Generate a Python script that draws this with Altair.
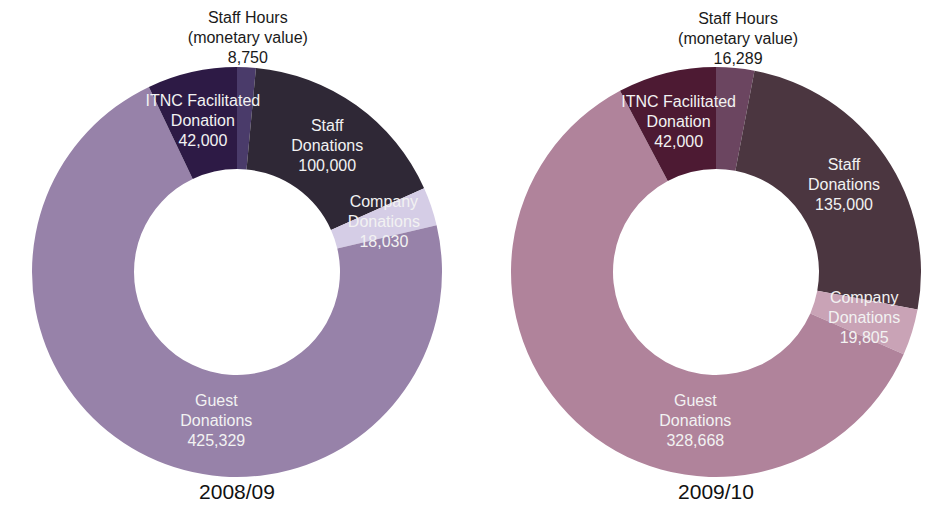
import math
import altair as alt
import pandas as pd

# ---- data ----
categories = ["Staff Hours", "Staff Donations", "Company Donations", "Guest Donations", "ITNC Facilitated Donation"]
label_text = ["Staff Hours\n(monetary value)", "Staff\nDonations", "Company\nDonations", "Guest\nDonations", "ITNC Facilitated\nDonation"]
values_2008 = [8750, 100000, 18030, 425329, 42000]
values_2009 = [16289, 135000, 19805, 328668, 42000]
years = ["2008/09", "2009/10"]

colors_2008 = ["#4a3b6a", "#2f2836", "#d5cde6", "#9782a9", "#2d1a45"]
colors_2009 = ["#6b4560", "#4b3640", "#c9a3b6", "#b0839b", "#4d1a33"]

FONT = "Liberation Sans"
OUTER, INNER = 205, 103


def panel(year, values, colors, width, cx, cy):
    df = pd.DataFrame({
        "category": categories,
        "lbl": label_text,
        "value": values,
        "order": list(range(len(categories))),
    })
    base = alt.Chart(df).transform_window(
        cum="sum(value)", sort=[alt.SortField("order")]
    ).transform_joinaggregate(
        total="sum(value)"
    ).transform_calculate(
        start="(datum.cum - datum.value) / datum.total",
        end="datum.cum / datum.total",
        mid="(datum.cum - datum.value / 2) / datum.total",
        label="datum.lbl + '\\n' + format(datum.value, ',')",
    )
    tscale = alt.Scale(domain=[0, 1], range=[0, 2 * math.pi])

    arcs = base.mark_arc(outerRadius=OUTER, innerRadius=INNER).encode(
        theta=alt.Theta("start:Q", scale=tscale, stack=None),
        theta2="end:Q",
        color=alt.Color("category:N", scale=alt.Scale(domain=categories, range=colors), legend=None),
        x=alt.value(cx), y=alt.value(cy),
    )
    txt_props = dict(font=FONT, fontSize=16, lineHeight=20, lineBreak="\n",
                     align="center", baseline="middle", dy=-20)
    inner_labels = base.transform_filter(
        "datum.category != 'Staff Hours' && datum.category != 'Guest Donations'"
    ).mark_text(radius=155, color="#f2f2f2", **txt_props).encode(
        theta=alt.Theta("mid:Q", scale=tscale, stack=None),
        text="label:N",
        x=alt.value(cx), y=alt.value(cy),
    )
    guest_label = base.transform_filter(
        "datum.category == 'Guest Donations'"
    ).mark_text(radius=150, theta=3.28, color="#f2f2f2", **txt_props).encode(
        text="label:N",
        x=alt.value(cx), y=alt.value(cy),
    )
    hours_label = base.transform_filter(
        "datum.category == 'Staff Hours'"
    ).mark_text(radius=234, color="#1a1a1a", **txt_props).encode(
        theta=alt.Theta("mid:Q", scale=tscale, stack=None),
        text="label:N",
        x=alt.value(cx), y=alt.value(cy),
    )
    title = alt.Chart(pd.DataFrame({"year": [year]})).mark_text(
        font=FONT, fontSize=21, color="#111111", align="center", baseline="middle"
    ).encode(text="year:N", x=alt.value(cx), y=alt.value(cy + 221))

    return alt.layer(arcs, inner_labels, guest_label, hours_label, title).properties(
        width=width, height=493
    )


left = panel(years[0], values_2008, colors_2008, 470, 229, 264)
right = panel(years[1], values_2009, colors_2009, 453, 238, 264)

chart = alt.hconcat(left, right, spacing=0).resolve_scale(
    color="independent", theta="independent"
).configure(padding=0).configure_view(stroke=None)
chart.save("out.html", embed_options={"renderer": "svg", "actions": False})
